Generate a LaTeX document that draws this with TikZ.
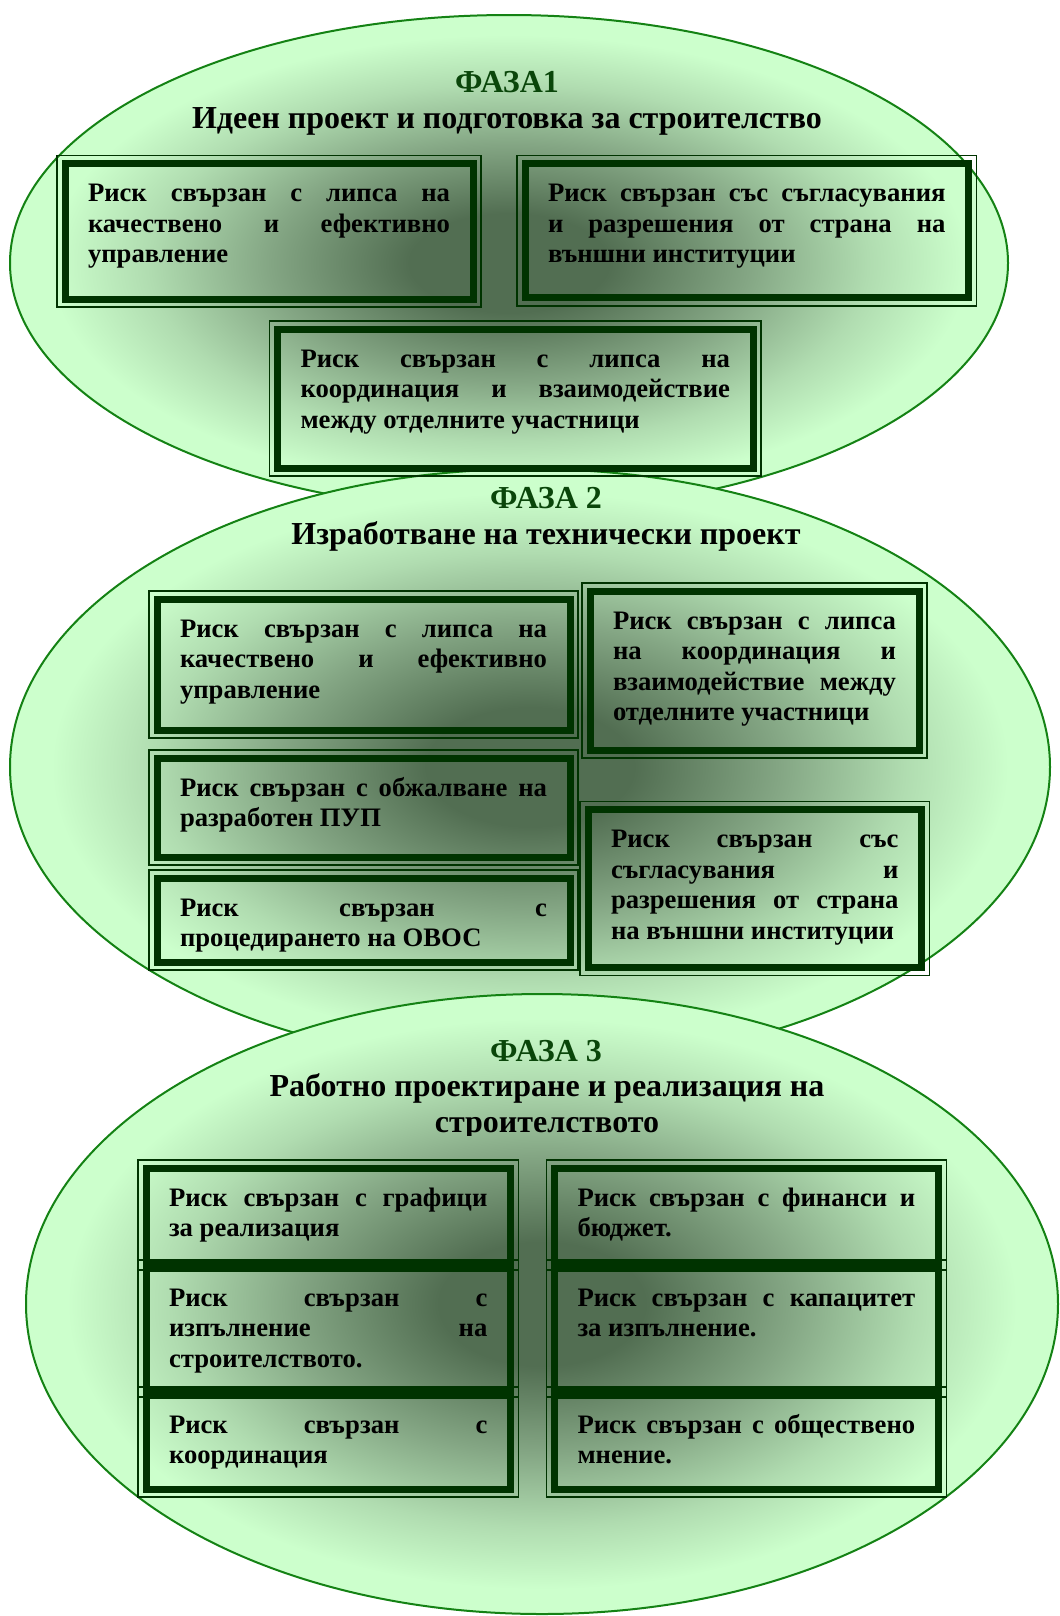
\documentclass[tikz,border=0pt]{standalone}
\usepackage{fontspec}
\setmainfont{Liberation Serif}
\definecolor{glowlight}{RGB}{204,255,204}
\definecolor{glowpale}{RGB}{176,220,176}
\definecolor{glowmid}{RGB}{132,166,132}
\definecolor{glowdark}{RGB}{82,110,82}
\definecolor{rimgreen}{RGB}{20,130,20}
\definecolor{boxgreen}{RGB}{0,51,0}
\definecolor{fazagreen}{RGB}{10,70,10}
\pgfdeclareradialshading{phaseglow}{\pgfpoint{0bp}{0bp}}{color(0bp)=(glowdark); color(5bp)=(glowdark); color(12bp)=(glowmid); color(18bp)=(glowpale); color(23bp)=(glowlight); color(50bp)=(glowlight)}
\tolerance=10000 \hbadness=10000

\begin{document}
\begin{tikzpicture}[x=0.45pt, y=-0.45pt,
  phase/.style={shade, shading=phaseglow, draw=rimgreen, line width=0.9pt},
  faza/.style={anchor=base, inner sep=0pt, text=fazagreen, font=\fontsize{14.4}{16.2}\selectfont\bfseries},
  title/.style={anchor=base, inner sep=0pt, font=\fontsize{14.4}{16.2}\selectfont\bfseries},
  risk/.style={anchor=north west, draw=boxgreen, line width=3.15pt, outer sep=0pt,
    inner xsep=10.35pt, inner ysep=6.5pt, text height=10.8pt, align=justify,
    font=\fontsize{12}{13.7}\selectfont\bfseries},
  frame/.style={draw=boxgreen, line width=0.7pt}]
\useasboundingbox (0,0) rectangle (1059,1616);
% the three phases
\path[phase] (509,263) ellipse [x radius=499, y radius=248];
\path[phase] (530,767) ellipse [x radius=520, y radius=298];
\path[phase] (542,1304) ellipse [x radius=516, y radius=310];
% phase 1
\node[faza] (faza1) at (507,92) {ФАЗА1};
\node[title] (name1) at (507,128) {Идеен проект и подготовка за строителство};
\node[risk, text width=162.9pt, text depth=37.2pt] (risk1a) at (65,163.5)
  {Риск свързан с липса на\linebreak качествено и ефективно\linebreak управление};
\node[risk, text width=178.9pt, text depth=36.7pt] (risk1b) at (525,163.5)
  {Риск свързан със съгласувания\linebreak и разрешения от страна на\linebreak външни институции};
\node[risk, text width=193.3pt, text depth=38.75pt] (risk1c) at (277.5,329)
  {Риск свързан с липса на\linebreak координация и взаимодействие\linebreak между отделните участници};
% phase 2
\node[faza] (faza2) at (546,508) {ФАЗА 2};
\node[title] (name2) at (546,544) {Изработване на технически проект};
\node[risk, text width=165.15pt, text depth=35.15pt] (risk2a) at (157,599)
  {Риск свързан с липса на\linebreak качествено и ефективно\linebreak управление};
\node[risk, text width=127.35pt, text depth=47.75pt] (risk2b) at (590,591)
  {Риск свързан с липса\linebreak на координация и\linebreak взаимодействие между\linebreak отделните участници};
\node[risk, text width=165.15pt, text depth=20.75pt] (risk2c) at (157,758)
  {Риск свързан с обжалване на\linebreak разработен ПУП};
\node[risk, text width=165.15pt, text depth=14pt] (risk2d) at (157,878)
  {Риск свързан с\linebreak процедирането на ОВОС};
\node[risk, text width=129.4pt, text depth=47.3pt] (risk2e) at (588,809.5)
  {Риск свързан със\linebreak съгласувания и\linebreak разрешения от страна\linebreak на външни институции};
% phase 3
\node[faza] (faza3) at (546,1061) {ФАЗА 3};
\scope % title cut by its text box
\clip (0,0) rectangle (1059,1135);
\node[title, align=center] (name3) at (547,1132) {Работно проектиране и реализация на\\строителството};
\endscope
\node[risk, text width=143.3pt, text depth=18.5pt] (risk3a) at (146,1168)
  {Риск свързан с графици\linebreak за реализация};
\node[risk, text width=143.3pt, text depth=30.65pt] (risk3b) at (146,1268)
  {Риск свързан с\linebreak изпълнение на\linebreak строителството.};
\node[risk, text width=143.3pt, text depth=18.5pt] (risk3c) at (146,1395)
  {Риск свързан с\linebreak координация};
\node[risk, text width=152pt, text depth=18.5pt] (risk3d) at (554.5,1168)
  {Риск свързан с финанси и\linebreak бюджет.};
\node[risk, text width=152pt, text depth=30.65pt] (risk3e) at (554.5,1268)
  {Риск свързан с капацитет\linebreak за изпълнение.};
\node[risk, text width=152pt, text depth=18.5pt] (risk3f) at (554.5,1395)
  {Риск свързан с обществено\linebreak мнение.};
% thin outer frames
\foreach \b in {risk1a,risk1b,risk1c,risk2a,risk2b,risk2c,risk2d,risk2e,risk3a,risk3b,risk3c,risk3d,risk3e,risk3f}
  \draw[frame] ([shift={(-3.6pt,3.6pt)}]\b.north west) rectangle ([shift={(3.6pt,-3.6pt)}]\b.south east);
\end{tikzpicture}
\end{document}
